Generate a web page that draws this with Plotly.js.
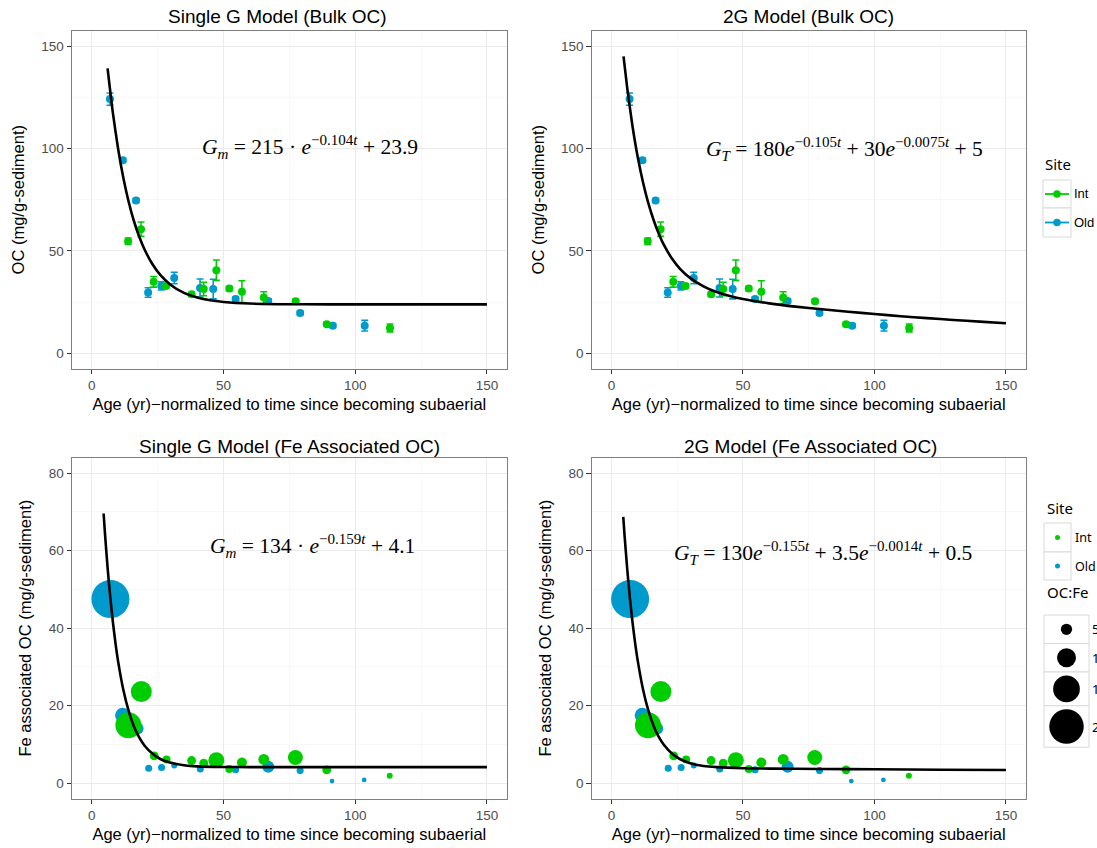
<!DOCTYPE html>
<html>
<head>
<meta charset="utf-8">
<script src="https://cdn.plot.ly/plotly-3.0.1.min.js"></script>
<style>html,body{margin:0;padding:0;background:#fff;}#chart{width:1097px;height:848px;}</style>
</head>
<body>
<div id="chart"></div>
<script>
// ---------- Data ----------
const siteNames = ["Int", "Old"];
const panelTitles = ["Single G Model (Bulk OC)", "2G Model (Bulk OC)",
                     "Single G Model (Fe Associated OC)", "2G Model (Fe Associated OC)"];
const xAxisTitle = "Age (yr)\u2212normalized to time since becoming subaerial";
const yTitleBulk = "OC (mg/g-sediment)";
const yTitleFe = "Fe associated OC (mg/g-sediment)";
const xTicks = [0, 50, 100, 150];
const yTicksBulk = [0, 50, 100, 150];
const yTicksFe = [0, 20, 40, 60, 80];

// Bulk OC
const ageIntBulk = [13.8, 18.7, 23.5, 28.2, 37.9, 42.5, 47.3, 52.2, 57.0, 65.3, 77.4, 89.2, 113.2];
const ocIntBulk  = [54.7, 60.6, 34.9, 32.9, 28.8, 31.4, 40.6, 31.6, 30.1, 27.2, 25.4, 14.2, 12.4];
const errIntBulk = [1.6, 3.5, 2.6, 1.0, 1.0, 3.3, 5.0, 1.0, 5.3, 2.9, 1.0, 1.0, 1.9];
const ageOldBulk = [6.9, 11.8, 16.8, 21.4, 26.4, 31.3, 41.1, 46.1, 54.6, 67.0, 79.1, 91.5, 103.6];
const ocOldBulk  = [124.1, 94.3, 74.6, 29.7, 32.9, 36.8, 31.9, 31.4, 26.5, 25.6, 19.7, 13.5, 13.5];
const errOldBulk = [3.0, 1.0, 1.0, 2.3, 2.0, 2.8, 4.4, 4.8, 1.0, 1.0, 1.0, 1.0, 2.6];

// Fe associated OC, with OC:Fe ratio
const ageIntFe = [13.9, 18.8, 23.7, 28.4, 37.9, 42.5, 47.3, 52.2, 57.0, 65.3, 77.3, 89.2, 113.1];
const feIntFe  = [14.9, 23.6, 7.0, 6.1, 5.8, 5.1, 5.9, 3.6, 5.3, 6.1, 6.6, 3.4, 1.9];
const ocfeInt  = [14.5, 11.3, 3.5, 2.9, 3.5, 3.5, 8.0, 2.9, 4.2, 4.8, 7.4, 3.5, 1.6];
const ageOldFe = [7.1, 11.7, 17.4, 21.6, 26.5, 31.3, 41.2, 54.6, 67.0, 79.1, 91.2, 103.4];
const feOldFe  = [47.5, 17.5, 14.1, 3.8, 4.0, 4.5, 3.6, 3.4, 4.2, 3.2, 0.5, 0.8];
const ocfeOld  = [22.3, 7.4, 5.5, 2.3, 2.3, 1.6, 2.3, 2.3, 5.5, 2.3, 0.8, 0.8];
const ocfeLegendValues = [5, 10, 15, 20];
const ocfeLegendLabels = ["5", "10", "15", "20"];

// Fitted model curves (values of the equations shown on each panel)
const fitAgeSGBulk = [6, 8, 10, 12, 14, 16, 18, 20, 23, 26, 30, 35, 40, 45, 50, 60, 80, 100, 150];
const fitSGBulk    = [139.1, 117.5, 99.9, 85.6, 74.0, 64.6, 57.0, 50.8, 43.6, 38.3, 33.4, 29.5, 27.3, 25.9, 25.1, 24.3, 23.95, 23.9, 23.9];
const fitAge2GBulk = [4.6, 6, 8, 10, 12, 14, 16, 18, 20, 23, 26, 30, 35, 40, 45, 50, 60, 70, 80, 90, 100, 110, 120, 130, 140, 150];
const fit2GBulk    = [145.0, 129.6, 111.0, 95.8, 83.5, 73.4, 65.2, 58.4, 52.8, 46.3, 41.4, 36.7, 32.7, 29.9, 28.0, 26.5, 24.4, 22.8, 21.5, 20.3, 19.2, 18.1, 17.2, 16.3, 15.5, 14.7];
const fitAgeSGFe = [4.5, 5, 6, 7, 8, 9, 10, 12, 14, 16, 18, 20, 23, 26, 30, 35, 40, 50, 60, 100, 150];
const fitSGFe    = [69.6, 64.6, 55.7, 48.1, 41.7, 36.1, 31.4, 24.0, 18.6, 14.6, 11.8, 9.7, 7.6, 6.2, 5.2, 4.6, 4.3, 4.15, 4.1, 4.1, 4.1];
const fitAge2GFe = [4.5, 5, 6, 7, 8, 9, 10, 12, 14, 16, 18, 20, 23, 26, 30, 35, 40, 50, 60, 80, 100, 125, 150];
const fit2GFe    = [68.7, 63.9, 55.3, 47.9, 41.6, 36.2, 31.6, 24.2, 18.8, 14.8, 11.9, 9.8, 7.6, 6.2, 5.1, 4.4, 4.1, 3.82, 3.72, 3.63, 3.54, 3.44, 3.34];

const equations = [
  "<i>G<sub>m</sub></i> = 215 \u00b7 <i>e</i><sup>\u22120.104<i>t</i></sup> + 23.9",
  "<i>G<sub>T</sub></i> = 180<i>e</i><sup>\u22120.105<i>t</i></sup> + 30<i>e</i><sup>\u22120.0075<i>t</i></sup> + 5",
  "<i>G<sub>m</sub></i> = 134 \u00b7 <i>e</i><sup>\u22120.159<i>t</i></sup> + 4.1",
  "<i>G<sub>T</sub></i> = 130<i>e</i><sup>\u22120.155<i>t</i></sup> + 3.5<i>e</i><sup>\u22120.0014<i>t</i></sup> + 0.5"
];

// ---------- Styling ----------
const W = 1097, H = 848;
const GREEN = "#00CD00", BLUE = "#009ACD";
const px = v => v / W;           // pixel -> paper x
const py = v => 1 - v / H;       // pixel -> paper y
const sizeOf = v => 3.5 + 1.55 * v;   // OC:Fe -> marker diameter (px)

const traces = [];
function bulkTraces(xa, ya) {
  traces.push({x: ageOldBulk, y: ocOldBulk, xaxis: xa, yaxis: ya, type: "scatter", mode: "markers",
    marker: {color: BLUE, size: 8, opacity: 1}, error_y: {type: "data", array: errOldBulk, visible: true, color: BLUE, thickness: 1.6, width: 3.5},
    showlegend: false, hoverinfo: "x+y"});
  traces.push({x: ageIntBulk, y: ocIntBulk, xaxis: xa, yaxis: ya, type: "scatter", mode: "markers",
    marker: {color: GREEN, size: 8, opacity: 1}, error_y: {type: "data", array: errIntBulk, visible: true, color: GREEN, thickness: 1.6, width: 3.5},
    showlegend: false, hoverinfo: "x+y"});
}
function feTraces(xa, ya) {
  traces.push({x: ageOldFe, y: feOldFe, xaxis: xa, yaxis: ya, type: "scatter", mode: "markers",
    marker: {color: BLUE, size: ocfeOld.map(sizeOf), sizemode: "diameter", opacity: 1, line: {width: 0}},
    showlegend: false, hoverinfo: "x+y"});
  traces.push({x: ageIntFe, y: feIntFe, xaxis: xa, yaxis: ya, type: "scatter", mode: "markers",
    marker: {color: GREEN, size: ocfeInt.map(sizeOf), sizemode: "diameter", opacity: 1, line: {width: 0}},
    showlegend: false, hoverinfo: "x+y"});
}
function fitTrace(x, y, xa, ya) {
  traces.push({x: x, y: y, xaxis: xa, yaxis: ya, type: "scatter", mode: "lines",
    line: {color: "#000", width: 2.6, shape: "spline", smoothing: 0.6}, showlegend: false, hoverinfo: "skip"});
}
bulkTraces("x", "y");  fitTrace(fitAgeSGBulk, fitSGBulk, "x", "y");
bulkTraces("x2", "y2"); fitTrace(fitAge2GBulk, fit2GBulk, "x2", "y2");
feTraces("x3", "y3");  fitTrace(fitAgeSGFe, fitSGFe, "x3", "y3");
feTraces("x4", "y4");  fitTrace(fitAge2GFe, fit2GFe, "x4", "y4");

const FONT = "Liberation Sans, Arial, sans-serif";
function xAxis(domain, anchor) {
  return {domain: domain, anchor: anchor, range: [-7.5, 157.5], tickvals: xTicks, ticktext: xTicks.map(String),
    showline: true, mirror: true, linecolor: "#7f7f7f", linewidth: 1,
    showgrid: true, gridcolor: "#ebebeb", gridwidth: 1, zeroline: false,
    minor: {tickvals: [25, 75, 125], showgrid: true, gridcolor: "#f4f4f4", gridwidth: 0.6, ticks: ""},
    ticks: "outside", ticklen: 4.5, tickwidth: 1, tickcolor: "#333",
    tickfont: {family: FONT, size: 13.5, color: "#4d4d4d"},
    title: {text: xAxisTitle, font: {family: FONT, size: 16.5, color: "#000"}, standoff: 6},
    automargin: false, fixedrange: true};
}
function yAxis(domain, anchor, range, ticks, minorTicks, title) {
  return {domain: domain, anchor: anchor, range: range, tickvals: ticks, ticktext: ticks.map(String),
    showline: true, mirror: true, linecolor: "#7f7f7f", linewidth: 1,
    showgrid: true, gridcolor: "#ebebeb", gridwidth: 1, zeroline: false,
    minor: {tickvals: minorTicks, showgrid: true, gridcolor: "#f4f4f4", gridwidth: 0.6, ticks: ""},
    ticks: "outside", ticklen: 4.5, tickwidth: 1, tickcolor: "#333",
    tickfont: {family: FONT, size: 13.5, color: "#4d4d4d"},
    title: {text: title, font: {family: FONT, size: 16.5, color: "#000"}, standoff: 12},
    automargin: false, fixedrange: true};
}
const xdL = [px(72), px(506.7)], xdR = [px(591.7), px(1025.7)];
const ydT = [py(368.7), py(30.7)], ydB = [py(798.5), py(457.7)];

const annotations = [];
const titlePos = [[278, 17], [808, 17], [289, 446], [810, 446]];
panelTitles.forEach((t, i) => annotations.push({text: t, xref: "paper", yref: "paper",
  x: px(titlePos[i][0]), y: py(titlePos[i][1]), xanchor: "center", yanchor: "middle", showarrow: false,
  font: {family: FONT, size: 19, color: "#000"}}));
const eqPos = [[310, 147], [844, 149], [312, 546], [823, 553]];
equations.forEach((t, i) => annotations.push({text: t, xref: "paper", yref: "paper",
  x: px(eqPos[i][0]), y: py(eqPos[i][1]), xanchor: "center", yanchor: "middle", showarrow: false,
  font: {family: "Liberation Serif, DejaVu Serif, serif", size: 21.5, color: "#000"}}));

// ---------- Legends (drawn as shapes + text) ----------
const shapes = [];
const LEGFONT = "Noto Sans, Liberation Sans, sans-serif";
function keyBox(x0, x1, y0, y1) {
  shapes.push({type: "rect", xref: "paper", yref: "paper", x0: px(x0), x1: px(x1), y0: py(y1), y1: py(y0),
    line: {color: "#d9d9d9", width: 1}, fillcolor: "#fff", layer: "above"});
}
function circ(cx, cy, d, color) {
  shapes.push({type: "circle", xref: "paper", yref: "paper", x0: px(cx - d / 2), x1: px(cx + d / 2),
    y0: py(cy + d / 2), y1: py(cy - d / 2), line: {width: 0}, fillcolor: color, layer: "above"});
}
function label(text, x, y, size, family) {
  annotations.push({text: text, xref: "paper", yref: "paper", x: px(x), y: py(y), xanchor: "left", yanchor: "middle",
    showarrow: false, font: {family: family || LEGFONT, size: size || 14, color: "#000"}});
}
// Top legend (Site, line + point)
label("Site", 1043, 164, 15);
const siteColors = [GREEN, BLUE];
[[180, 208], [208, 237]].forEach((b, i) => {
  keyBox(1043, 1071, b[0], b[1]);
  const cy = (b[0] + b[1]) / 2;
  shapes.push({type: "line", xref: "paper", yref: "paper", x0: px(1045), x1: px(1069), y0: py(cy), y1: py(cy),
    line: {color: siteColors[i], width: 1.8}, layer: "above"});
  circ(1057, cy, 7.5, siteColors[i]);
  label(siteNames[i], 1072, cy, 13, FONT);
});
// Bottom legend (Site points + OC:Fe sizes)
label("Site", 1045, 508, 15);
[[523, 552], [552, 580]].forEach((b, i) => {
  keyBox(1044, 1071, b[0], b[1]);
  const cy = (b[0] + b[1]) / 2;
  circ(1057.5, cy, 5, siteColors[i]);
  label(siteNames[i], 1073, cy, 12.5);
});
label("OC:Fe", 1045, 592, 15);
let yTop = 615;
ocfeLegendValues.forEach((v, i) => {
  const d = sizeOf(v);
  const h = Math.max(28.5, d + 7);
  keyBox(1044, 1089, yTop, yTop + h);
  circ(1066.5, yTop + h / 2, d, "#000");
  label(ocfeLegendLabels[i], 1090, yTop + h / 2, 13);
  yTop += h;
});

const layout = {
  width: W, height: H, margin: {l: 0, r: 0, t: 0, b: 0},
  paper_bgcolor: "#fff", plot_bgcolor: "#fff", showlegend: false,
  xaxis: xAxis(xdL, "y"), yaxis: yAxis(ydT, "x", [-7.5, 157.5], yTicksBulk, [25, 75, 125], yTitleBulk),
  xaxis2: xAxis(xdR, "y2"), yaxis2: yAxis(ydT, "x2", [-7.5, 157.5], yTicksBulk, [25, 75, 125], yTitleBulk),
  xaxis3: xAxis(xdL, "y3"), yaxis3: yAxis(ydB, "x3", [-4, 84], yTicksFe, [10, 30, 50, 70], yTitleFe),
  xaxis4: xAxis(xdR, "y4"), yaxis4: yAxis(ydB, "x4", [-4, 84], yTicksFe, [10, 30, 50, 70], yTitleFe),
  annotations: annotations, shapes: shapes
};
Plotly.newPlot("chart", traces, layout, {displayModeBar: false, staticPlot: true});
</script>
</body>
</html>
